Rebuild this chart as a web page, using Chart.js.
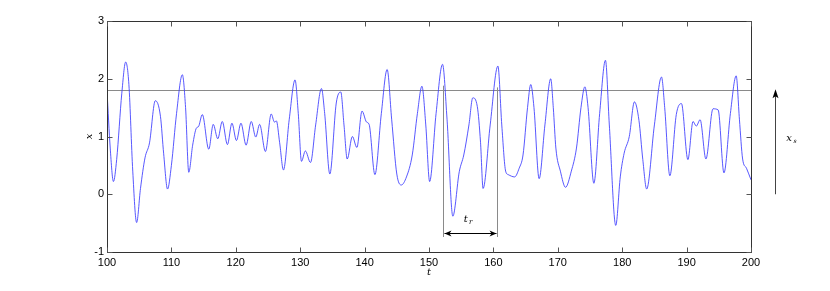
<!DOCTYPE html>
<html><head><meta charset="utf-8">
<script src="https://cdn.jsdelivr.net/npm/chart.js@4/dist/chart.umd.min.js"></script>
<style>html,body{margin:0;padding:0;background:#fff}canvas{display:block}</style>
</head><body>
<canvas id="c" width="830" height="291"></canvas>
<script>
const times = [100.0,100.5,101.0,101.5,102.3,102.9,103.4,104.0,104.6,105.2,105.9,106.6,107.5,108.3,108.8,109.4,110.0,110.8,111.7,112.2,112.7,113.3,113.9,114.2,114.8,115.8,116.5,117.2,117.9,118.7,119.4,120.1,120.8,121.6,122.4,123.1,123.7,124.6,125.5,126.0,126.3,126.8,127.4,128.3,129.2,129.7,130.2,130.8,131.6,132.4,133.3,133.8,134.6,135.6,136.3,136.8,137.3,138.1,138.8,139.6,140.3,140.7,141.6,142.6,143.5,144.2,145.0,145.7,146.5,147.4,148.2,148.9,149.5,150.1,151.1,152.1,152.8,153.7,154.7,155.4,156.2,156.8,157.5,158.0,158.4,159.5,160.7,161.3,161.9,162.3,163.3,164.0,164.6,165.3,165.8,166.3,167.1,168.0,168.9,169.3,169.7,170.4,171.2,172.1,172.9,173.6,174.2,174.7,175.6,176.5,177.4,178.0,179.0,179.7,180.3,181.1,181.9,182.6,183.2,183.8,185.0,186.1,186.6,187.4,188.4,189.2,190.2,191.0,191.5,192.1,193.0,194.1,194.9,195.8,196.8,197.7,198.2,198.7,199.3,200.0];
const xValues = [1.79,0.80,0.22,0.60,1.75,2.29,1.90,0.40,-0.49,0.10,0.63,0.89,1.62,1.35,0.70,0.09,0.50,1.40,2.07,1.50,0.38,0.85,1.15,1.17,1.38,0.78,1.21,0.96,1.26,0.86,1.23,0.93,1.23,0.85,1.26,0.99,1.21,0.74,1.39,1.25,1.27,0.90,0.42,1.30,1.98,1.40,0.57,0.75,0.55,1.20,1.83,1.40,0.35,1.58,1.77,1.20,0.61,1.00,0.81,1.44,1.25,1.21,0.34,1.40,2.16,1.30,0.35,0.16,0.30,0.68,1.40,1.87,1.20,0.22,1.40,2.25,1.30,-0.38,0.39,0.68,1.20,1.67,1.52,0.90,0.10,1.20,2.22,1.20,0.40,0.34,0.30,0.45,0.68,1.50,1.90,1.50,0.27,1.20,2.00,1.50,0.80,0.40,0.12,0.40,0.80,1.50,1.86,1.50,0.19,1.40,2.32,1.20,-0.54,0.30,0.71,1.00,1.60,1.28,0.60,0.09,1.20,2.03,1.50,0.32,1.38,1.57,0.60,1.26,1.18,1.29,0.61,1.48,1.46,0.37,1.40,2.05,1.30,0.61,0.45,0.25];
const threshold = 1.8;
const trStart = 152.1, trEnd = 160.6;
const xTicks = [100,110,120,130,140,150,160,170,180,190,200];
const yTicks = [-1,0,1,2,3];

const points = times.map((t,i)=>({x:t,y:xValues[i]}));

const annot = {
  id:'annot',
  beforeDatasetsDraw(chart){
    const {ctx, chartArea:a, scales:{y}} = chart;
    ctx.save();
    const py = Math.round(y.getPixelForValue(threshold))+0.5;
    ctx.strokeStyle='#8a8a8a'; ctx.lineWidth=1.2;
    ctx.beginPath(); ctx.moveTo(a.left,py); ctx.lineTo(a.right,py); ctx.stroke();
    ctx.restore();
  },
  afterDatasetsDraw(chart){
    const {ctx, chartArea:a, scales:{x,y}} = chart;
    ctx.save();
    const L=Math.round(a.left)+0.5, R=Math.round(a.right)+0.5, T=Math.round(a.top)+0.5, B=Math.round(a.bottom)+0.5;
    ctx.strokeStyle='#333'; ctx.lineWidth=1;
    ctx.strokeRect(L,T,R-L,B-T);
    ctx.strokeStyle='#555';
    ctx.beginPath();
    xTicks.forEach(v=>{const px=Math.round(x.getPixelForValue(v))+0.5;
      ctx.moveTo(px,B); ctx.lineTo(px,B-5); ctx.moveTo(px,T); ctx.lineTo(px,T+5);});
    yTicks.forEach(v=>{const py=Math.round(y.getPixelForValue(v))+0.5;
      ctx.moveTo(L,py); ctx.lineTo(L+5,py); ctx.moveTo(R,py); ctx.lineTo(R-5,py);});
    ctx.stroke();
    const x1=Math.round(x.getPixelForValue(trStart))+0.5, x2=Math.round(x.getPixelForValue(trEnd))+0.5;
    const yTop=y.getPixelForValue(1.88), yBot=y.getPixelForValue(-0.74);
    ctx.strokeStyle='#8a8a8a'; ctx.lineWidth=1;
    ctx.beginPath(); ctx.moveTo(x1,yTop); ctx.lineTo(x1,yBot); ctx.moveTo(x2,y.getPixelForValue(1.85)); ctx.lineTo(x2,yBot); ctx.stroke();
    const ay=Math.round(y.getPixelForValue(-0.67))+0.5;
    ctx.strokeStyle='#000'; ctx.fillStyle='#000';
    ctx.beginPath(); ctx.moveTo(x1+1,ay); ctx.lineTo(x2-1,ay); ctx.stroke();
    const head=(xp,dir)=>{ctx.beginPath(); ctx.moveTo(xp,ay); ctx.lineTo(xp+dir*7,ay-3); ctx.lineTo(xp+dir*5,ay); ctx.lineTo(xp+dir*7,ay+3); ctx.closePath(); ctx.fill();};
    head(x1+1,1); head(x2-1,-1);
    ctx.font='italic 10px "DejaVu Serif", serif'; ctx.textAlign='center'; ctx.textBaseline='middle';
    const lx=x.getPixelForValue(156.0), ly=y.getPixelForValue(-0.44);
    ctx.fillText('t',lx-2,ly);
    ctx.font='italic 7px "DejaVu Serif", serif';
    ctx.fillText('r',lx+3,ly+3);
    const sx=Math.round(a.right+24)+0.5;
    const sy0=y.getPixelForValue(0), sy1=y.getPixelForValue(1.8);
    ctx.strokeStyle='#444'; ctx.lineWidth=1;
    ctx.beginPath(); ctx.moveTo(sx,sy0); ctx.lineTo(sx,sy1+4); ctx.stroke();
    ctx.fillStyle='#000';
    ctx.beginPath(); ctx.moveTo(sx,sy1-1); ctx.lineTo(sx-3,sy1+8); ctx.lineTo(sx,sy1+6); ctx.lineTo(sx+3,sy1+8); ctx.closePath(); ctx.fill();
    ctx.font='italic 10px "DejaVu Serif", serif'; ctx.textAlign='center';
    const xsY=y.getPixelForValue(0.97);
    ctx.fillText('x',a.right+38,xsY);
    ctx.font='italic 6px "DejaVu Serif", serif';
    ctx.fillText('s',a.right+44,xsY+3);
    ctx.font='italic 10px "DejaVu Serif", serif';
    ctx.fillText('t',x.getPixelForValue(150),a.bottom+20);
    ctx.save(); ctx.translate(a.left-18,y.getPixelForValue(1)); ctx.rotate(-Math.PI/2);
    ctx.fillText('x',0,0); ctx.restore();
    ctx.restore();
  }
};

new Chart(document.getElementById('c'),{
  type:'line',
  data:{datasets:[{data:points,borderColor:'#3a3aff',borderWidth:0.85,pointRadius:0,fill:false,cubicInterpolationMode:'monotone'}]},
  options:{
    responsive:false,animation:false,devicePixelRatio:1,
    layout:{padding:{top:21,right:79,left:0,bottom:0}},
    plugins:{legend:{display:false},tooltip:{enabled:false}},
    scales:{
      x:{type:'linear',min:100,max:200,
        afterBuildTicks:s=>{s.ticks=xTicks.map(v=>({value:v}));},
        afterFit:s=>{s.height=39;},
        grid:{display:false,drawTicks:false},border:{display:false},
        ticks:{color:'#000',padding:4,maxRotation:0,font:{family:'"Liberation Sans", Arial, sans-serif',size:11}}},
      y:{type:'linear',min:-1,max:3,
        afterBuildTicks:s=>{s.ticks=yTicks.map(v=>({value:v}));},
        afterFit:s=>{s.width=107;},
        grid:{display:false,drawTicks:false},border:{display:false},
        ticks:{color:'#000',padding:3,font:{family:'"Liberation Sans", Arial, sans-serif',size:11}}}
    }
  },
  plugins:[annot]
});
</script>
</body></html>
